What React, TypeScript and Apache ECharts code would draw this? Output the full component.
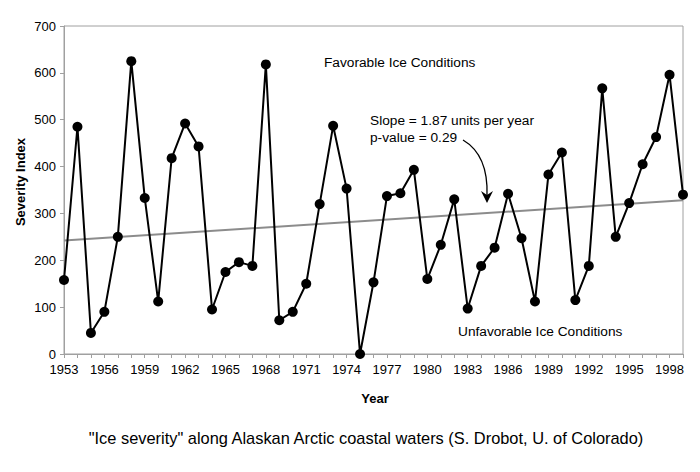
import React, { useEffect, useRef } from "react";
import * as echarts from "echarts";

const years: string[] = [];
for (let y = 1953; y <= 1999; y++) years.push(String(y));

const severity: number[] = [
  158, 485, 45, 90, 250, 625, 333, 112, 418, 492, 443, 95, 175, 196, 188, 618,
  72, 90, 150, 320, 487, 353, 0, 153, 337, 343, 393, 160, 233, 330, 97, 188,
  227, 342, 247, 112, 383, 430, 115, 188, 567, 250, 322, 405, 463, 596, 340,
];

const trendStartValue = 242;
const trendSlope = 1.87;

const FONT = "Liberation Sans, Arial, Helvetica, sans-serif";

export default function App() {
  const ref = useRef<HTMLDivElement>(null);
  useEffect(() => {
    if (!ref.current) return;
    const chart = echarts.init(ref.current, undefined, { renderer: "svg" });
    const first = Number(years[0]);
    const last = Number(years[years.length - 1]);
    const trend = [
      [years[0], trendStartValue],
      [years[years.length - 1], trendStartValue + trendSlope * (last - first)],
    ];
    const ann = `13.7px ${FONT}`;
    chart.setOption({
      animation: false,
      backgroundColor: "#fff",
      textStyle: { fontFamily: FONT },
      grid: { left: 64, right: 17, top: 26, bottom: 118, show: true, borderColor: "#a0a0a0", borderWidth: 1 },
      xAxis: {
        type: "category",
        data: years,
        boundaryGap: false,
        axisLine: { lineStyle: { color: "#a0a0a0", width: 1 } },
        axisTick: { interval: 0, length: 4, lineStyle: { color: "#a0a0a0" } },
        axisLabel: { interval: 2, color: "#000", fontSize: 13, margin: 9, fontFamily: FONT },
        splitLine: { show: false },
      },
      yAxis: {
        type: "value",
        min: 0,
        max: 700,
        interval: 100,
        axisLine: { show: true, lineStyle: { color: "#a0a0a0", width: 1 } },
        axisTick: { show: true, length: 4, lineStyle: { color: "#a0a0a0" } },
        axisLabel: { color: "#000", fontSize: 13, margin: 8, fontFamily: FONT },
        splitLine: { show: false },
      },
      series: [
        {
          type: "line",
          data: trend,
          symbol: "none",
          lineStyle: { color: "#8c8c8c", width: 2 },
          z: 1,
        },
        {
          type: "line",
          data: severity,
          symbol: "circle",
          symbolSize: 10,
          showSymbol: true,
          showAllSymbol: true,
          itemStyle: { color: "#000" },
          lineStyle: { color: "#000", width: 2 },
          z: 2,
        },
      ],
      graphic: [
        {
          type: "text",
          x: 20,
          y: 182,
          rotation: Math.PI / 2,
          style: { text: "Severity Index", font: `bold 13px ${FONT}`, fill: "#000", align: "center", verticalAlign: "middle" },
        },
        {
          type: "text",
          x: 375,
          y: 398,
          style: { text: "Year", font: `bold 13px ${FONT}`, fill: "#000", align: "center", verticalAlign: "middle" },
        },
        {
          type: "text",
          x: 366,
          y: 438,
          style: {
            text: '"Ice severity" along Alaskan Arctic coastal waters (S. Drobot, U. of Colorado)',
            font: `16.4px ${FONT}`,
            fill: "#000",
            align: "center",
            verticalAlign: "middle",
          },
        },
        {
          type: "text",
          x: 324,
          y: 62,
          style: { text: "Favorable Ice Conditions", font: ann, fill: "#000", align: "left", verticalAlign: "middle" },
        },
        {
          type: "text",
          x: 458,
          y: 331,
          style: { text: "Unfavorable Ice Conditions", font: ann, fill: "#000", align: "left", verticalAlign: "middle" },
        },
        {
          type: "text",
          x: 370,
          y: 120,
          style: { text: "Slope = 1.87 units per year", font: ann, fill: "#000", align: "left", verticalAlign: "middle" },
        },
        {
          type: "text",
          x: 370,
          y: 137,
          style: { text: "p-value = 0.29", font: ann, fill: "#000", align: "left", verticalAlign: "middle" },
        },
        {
          type: "bezierCurve",
          shape: { x1: 463, y1: 140, cpx1: 480, cpy1: 150, cpx2: 488, cpy2: 170, x2: 487, y2: 196 },
          style: { stroke: "#000", lineWidth: 1.3, fill: "none" },
        },
        {
          type: "polygon",
          shape: { points: [[487, 203], [481, 191], [487, 195], [493, 191]] },
          style: { fill: "#000" },
        },
      ],
    });
    return () => chart.dispose();
  }, []);
  return <div ref={ref} style={{ width: 700, height: 472, position: "absolute", left: 0, top: 0 }} />;
}
